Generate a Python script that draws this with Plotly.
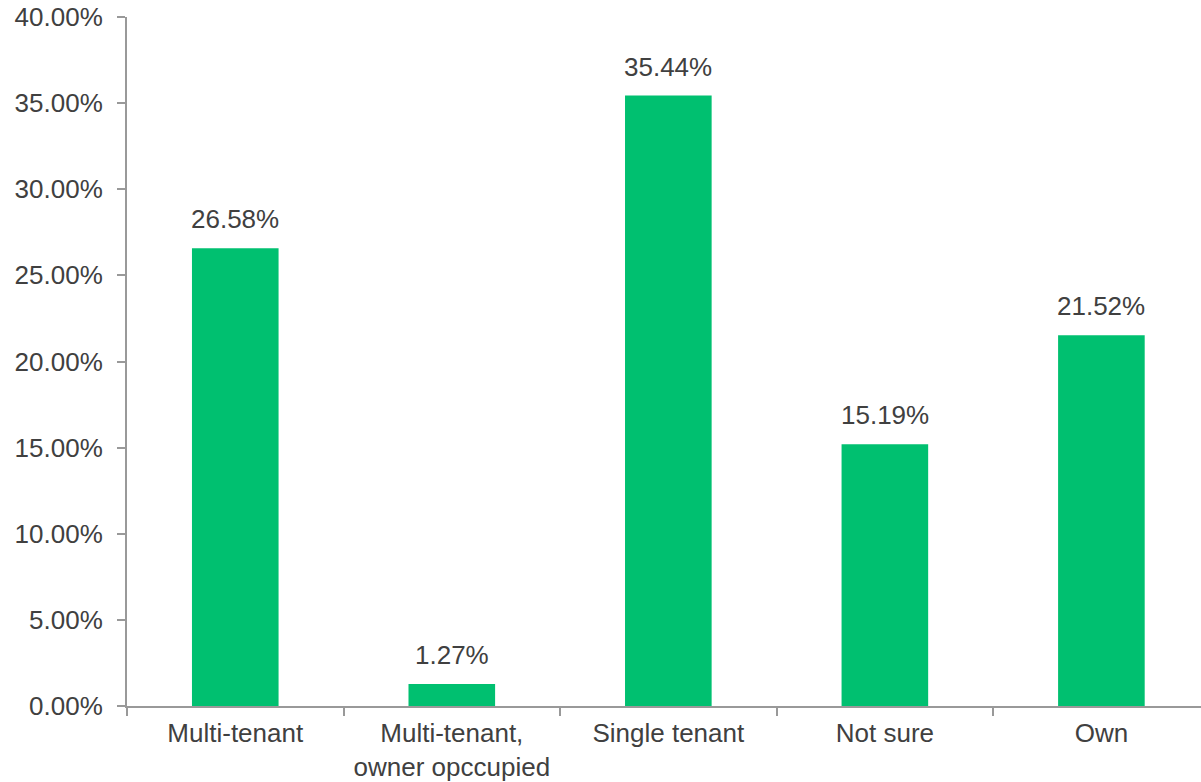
import plotly.graph_objects as go

categories = ["Multi-tenant", "Multi-tenant,<br>owner opccupied", "Single tenant", "Not sure", "Own"]
values = [26.58, 1.27, 35.44, 15.19, 21.52]
labels = ["26.58%", "1.27%", "35.44%", "15.19%", "21.52%"]
y_ticks = [0, 5, 10, 15, 20, 25, 30, 35, 40]

font_family = "Liberation Sans, Arial, sans-serif"
text_color = "#404040"
axis_color = "#999999"
bar_color = "#00C070"
fs = 26

fig = go.Figure()
fig.add_trace(go.Bar(x=categories, y=values, marker_color=bar_color, width=0.4,
                     marker_line_width=0, hoverinfo="skip"))

for c, v, t in zip(categories, values, labels):
    fig.add_annotation(x=c, y=v, text=t, showarrow=False, yanchor="bottom",
                       yshift=12, font=dict(family=font_family, size=fs, color=text_color))

fig.update_layout(
    width=1201, height=782,
    margin=dict(l=127, r=0, t=17, b=76),
    plot_bgcolor="white", paper_bgcolor="white",
    showlegend=False,
    bargap=0.6,
    font=dict(family=font_family, size=fs, color=text_color),
)
fig.update_xaxes(
    automargin=False, range=[-0.5, 4.46],
    showline=True, linecolor=axis_color, linewidth=2,
    ticks="outside", tickson="boundaries", ticklen=8, tickcolor=axis_color, tickwidth=2,
    showgrid=False, tickfont=dict(size=fs, color=text_color), ticklabelstandoff=3,
)
fig.update_yaxes(
    automargin=False,
    range=[0, 40], tickvals=y_ticks, ticktext=[f"{v:.2f}%" for v in y_ticks],
    showline=True, linecolor=axis_color, linewidth=2,
    ticks="outside", ticklen=8, tickcolor=axis_color, tickwidth=2,
    showgrid=False, zeroline=False, ticklabelstandoff=9,
    tickfont=dict(size=fs, color=text_color),
)
fig.write_html("out.html", config={"displayModeBar": False},
               post_script="document.body.style.margin='0';")
